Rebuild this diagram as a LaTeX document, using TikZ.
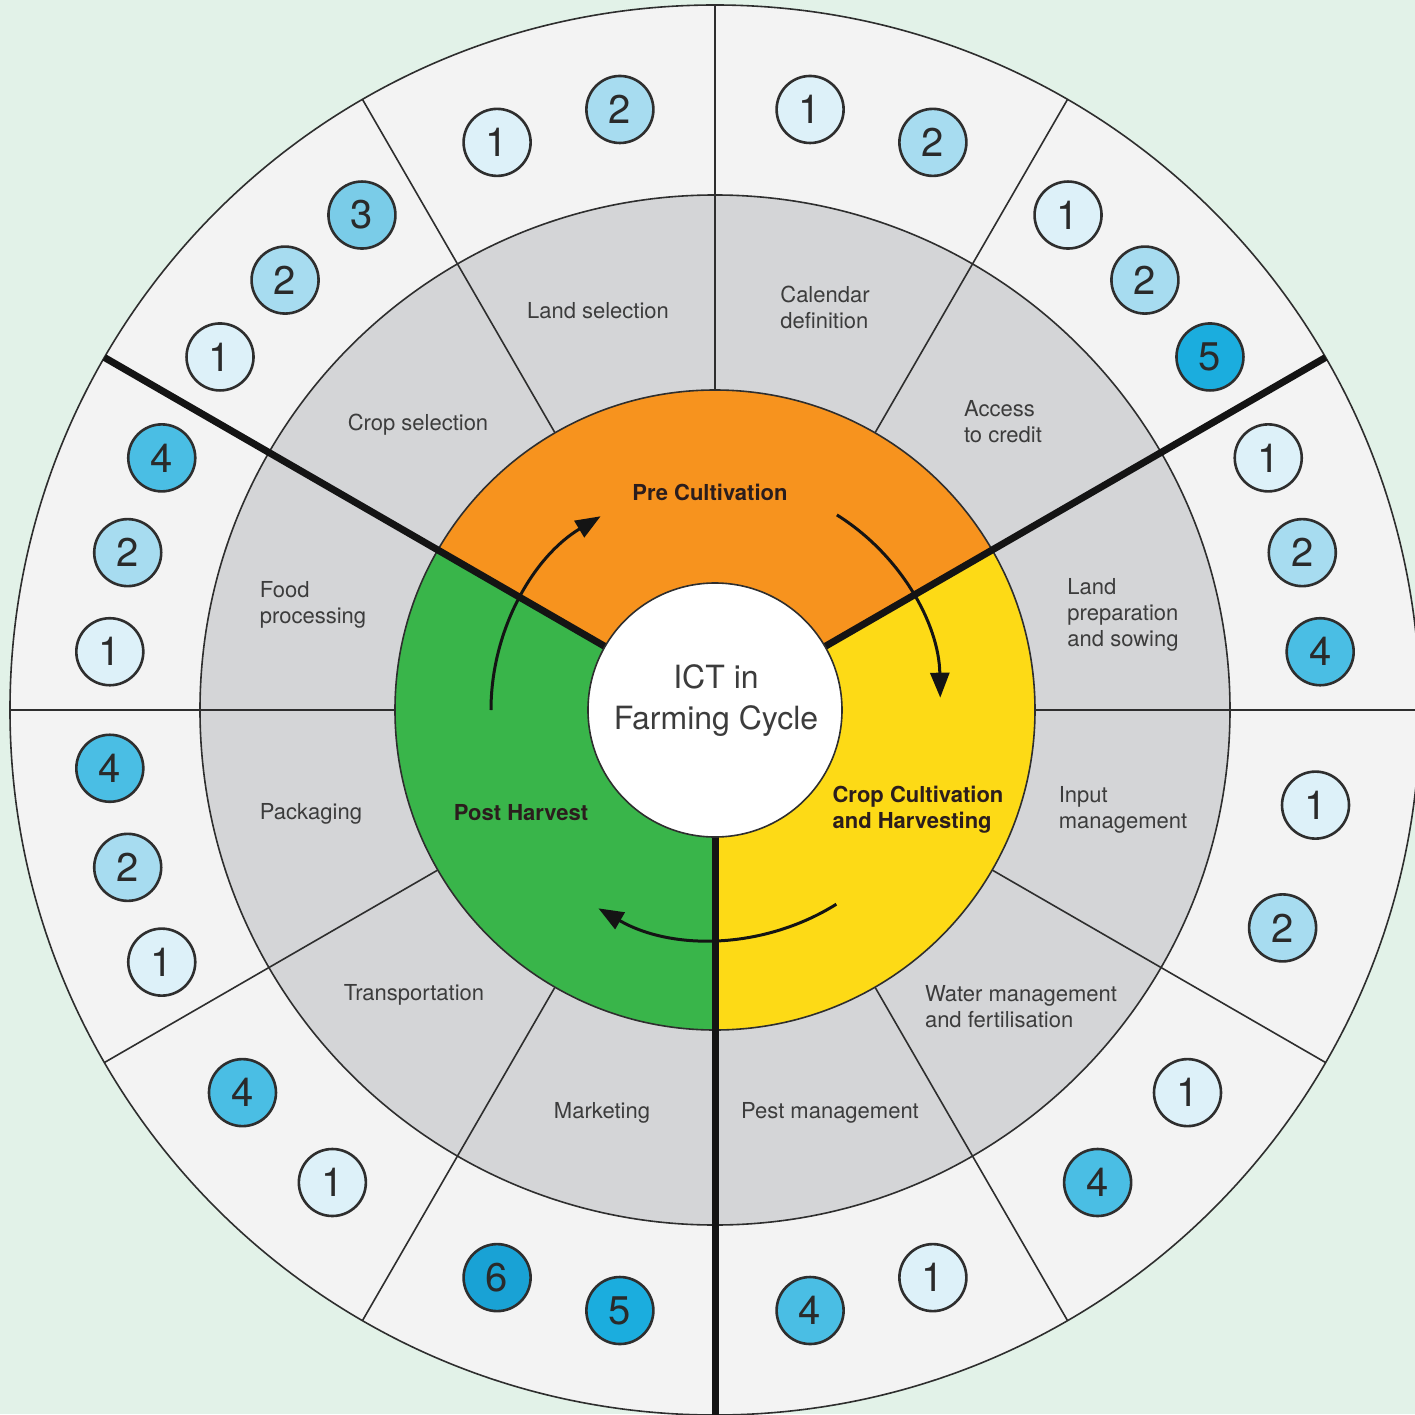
\documentclass[tikz,border=0pt]{standalone}
\usepackage{fontspec}
\setmainfont{TeX Gyre Heros}
\usetikzlibrary{arrows.meta}
\definecolor{bgc}{HTML}{E2F2E8}
\definecolor{outerc}{HTML}{F3F3F3}
\definecolor{grayc}{HTML}{D4D5D7}
\definecolor{orangec}{HTML}{F7931E}
\definecolor{yellowc}{HTML}{FDDA16}
\definecolor{greenc}{HTML}{39B54A}
\definecolor{linec}{HTML}{2E2E2E}
\definecolor{labc}{HTML}{3C3C3C}
\definecolor{phasec}{HTML}{2B1D1D}
\definecolor{numtext}{HTML}{2A2A2A}
\definecolor{num1}{HTML}{DDF1F9}
\definecolor{num2}{HTML}{A7DCF0}
\definecolor{num3}{HTML}{7ACCE8}
\definecolor{num4}{HTML}{4ABEE4}
\definecolor{num5}{HTML}{1BADDE}
\definecolor{num6}{HTML}{19A2D5}
\begin{document}
\begin{tikzpicture}[x=1pt,y=1pt,
  thinline/.style={line width=1.6pt, draw=linec},
  thickline/.style={line width=7pt, draw=black!92},
  ringlabel/.style={font=\fontsize{22}{26}\selectfont, text=labc, align=left, inner sep=0pt},
  phaselabel/.style={font=\bfseries\fontsize{22}{26}\selectfont, text=phasec, align=left, inner sep=0pt},
  numcirc/.style={circle, draw=linec, line width=2.6pt, minimum size=67pt, inner sep=0pt, font=\fontsize{40}{40}\selectfont, text=numtext},
  cycarrow/.style={line width=3pt, draw=black!92, -{Triangle[length=25pt,width=19pt]}}
]
\useasboundingbox (-715,-704) rectangle (700,710);
\clip (-715,-704) rectangle (700,710);
\fill[bgc] (-715,-704) rectangle (700,710);
\fill[outerc] (0,0) circle (705);
\fill[grayc] (0,0) circle (515);
\fill[orangec] (0,0) -- (30:320) arc[start angle=30,end angle=150,radius=320] -- cycle;
\fill[yellowc] (0,0) -- (-90:320) arc[start angle=-90,end angle=30,radius=320] -- cycle;
\fill[greenc] (0,0) -- (150:320) arc[start angle=150,end angle=270,radius=320] -- cycle;
\draw[thinline] (0,0) circle (705);
\draw[thinline] (0,0) circle (515);
\draw[thinline] (0,0) circle (320);
\foreach \a in {0,60,90,120,180,210,240,300,330}
  \draw[thinline] (\a:320) -- (\a:705);
\foreach \a/\r in {30/705,150/705,270/720}
  \draw[thickline] (\a:127) -- (\a:\r);
\fill[white] (0,0) circle (127);
\draw[thinline] (0,0) circle (127);
\node[font=\fontsize{32}{41}\selectfont, text=labc, align=center, inner sep=0pt] (hub) at (1,9) {ICT in\\Farming Cycle};

% cycle arrows
\draw[cycarrow] (180:224) arc[start angle=180, end angle=121, radius=226];
\draw[cycarrow] (58:230) arc[start angle=58, end angle=1, radius=220];
\draw[cycarrow] (-58:229) arc[start angle=-58, end angle=-120, radius=231];

% phase labels
\node[phaselabel] (pre) at (-5,218) {Pre Cultivation};
\node[phaselabel] (crop) at (203,-100) {Crop Cultivation\\and Harvesting};
\node[phaselabel] (post) at (-194,-103) {Post Harvest};

% ring labels
\node[ringlabel] (l1) at (-117,399) {Land selection};
\node[ringlabel] (l2) at (110,403) {Calendar\\definition};
\node[ringlabel] (l3) at (288,288) {Access\\to credit};
\node[ringlabel] (l4) at (408,95) {Land\\preparation\\and sowing};
\node[ringlabel] (l5) at (408,-100) {Input\\management};
\node[ringlabel] (l6) at (306,-297) {Water management\\and fertilisation};
\node[ringlabel] (l7) at (115,-403) {Pest management};
\node[ringlabel] (l8) at (-113,-403) {Marketing};
\node[ringlabel] (l9) at (-301,-285) {Transportation};
\node[ringlabel] (l10) at (-404,-104) {Packaging};
\node[ringlabel] (l11) at (-402,105) {Food\\processing};
\node[ringlabel] (l12) at (-297,285) {Crop selection};

% numbered circles
\foreach \ang/\n [count=\i] in {
  111/1, 99/2,
  81/1, 69/2,
  54.5/1, 45/2, 35.5/5,
  24.5/1, 15/2, 5.5/4,
  -9/1, -21/2,
  -39/1, -51/4,
  -69/1, -81/4,
  249/6, 261/5,
  219/4, 231/1,
  185.5/4, 195/2, 204.5/1,
  155.5/4, 165/2, 174.5/1,
  125.5/3, 135/2, 144.5/1}
  \node[numcirc, fill=num\n] (c\i) at (\ang:608) {\n};
\end{tikzpicture}
\end{document}
